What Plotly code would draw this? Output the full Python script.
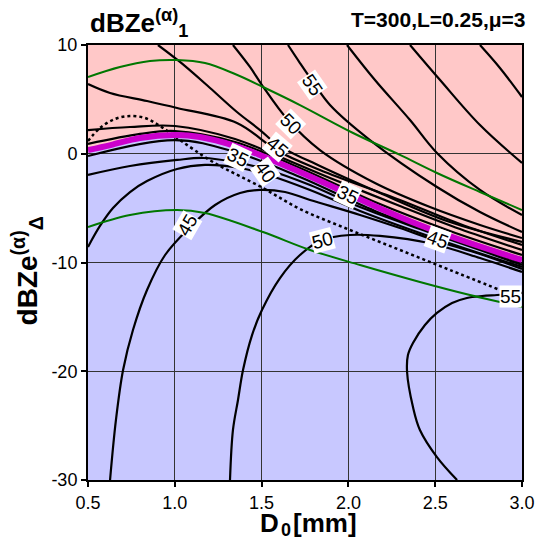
import plotly.graph_objects as go

# ---- boundary (magenta) between the two regions ----
bnd_x = [0.50, 0.63, 0.80, 1.00, 1.145, 1.35, 1.49, 1.72, 1.95, 2.15, 2.41, 2.70, 3.0]
bnd_y = [0.34, 0.80, 1.45, 1.72, 1.54, 0.71, -0.11, -1.68, -3.33, -4.80, -6.55, -8.21, -9.77]

# ---- contour lines, upper (pink) region ----
up70_x = [2.758, 2.873, 3.0]
up70_y = [10, 7.89, 5.22]
up65_x = [2.355, 2.528, 2.758, 3.0]
up65_y = [10, 6.78, 2.64, -0.85]
up60_x = [1.992, 2.153, 2.355, 2.510, 2.758, 3.0]
up60_y = [10, 6.78, 3.10, 0.07, -3.33, -5.63]
up55_x = [1.652, 1.721, 1.796, 1.894, 2.124, 2.510, 2.758, 3.0]
up55_y = [10, 8.34, 6.60, 4.48, 1.26, -3.06, -5.36, -7.20]
up50_x = [1.335, 1.433, 1.502, 1.652, 1.836, 2.153, 2.470, 2.758, 3.0]
up50_y = [10, 7.98, 6.32, 3.10, 0.34, -2.69, -4.90, -6.55, -7.75]
up45_x = [0.903, 1.030, 1.203, 1.358, 1.491, 1.594, 1.836, 2.182, 2.585, 3.0]
up45_y = [10, 8.44, 6.05, 3.84, 2.18, 0.80, -1.13, -3.61, -6.28, -8.11]
up40_x = [0.5, 0.627, 0.840, 1.013, 1.358, 1.594, 1.836, 2.297, 2.643, 3.0]
up40_y = [6.41, 5.59, 4.85, 4.21, 2.83, 0.25, -1.49, -4.25, -6.46, -8.39]
up35_x = [0.5, 0.742, 1.001, 1.347, 1.606, 1.894, 2.297, 2.643, 3.0]
up35_y = [2.18, 2.46, 2.55, 1.36, -0.30, -2.23, -4.80, -6.92, -8.85]
up30_x = [0.5, 0.8, 1.001, 1.347, 1.721, 2.153, 2.585, 3.0]
up30_y = [0.90, 1.82, 2.09, 1.08, -1.31, -4.44, -7.10, -9.31]

# ---- contour lines, lower (blue) region ----
lo30_x = [0.5, 1.001, 1.347, 1.721, 2.153, 2.585, 3.0]
lo30_y = [-0.21, 1.26, 0.16, -2.14, -5.26, -7.75, -10.05]
lo35_x = [0.5, 0.742, 1.013, 1.162, 1.347, 1.537, 1.779, 2.067, 2.412, 2.758, 3.0]
lo35_y = [-1.95, -1.13, -0.57, -0.39, -0.76, -1.49, -2.87, -4.90, -6.92, -8.85, -10.23]
lo40_x = [0.5, 0.569, 0.644, 0.742, 0.840, 1.013, 1.174, 1.376, 1.537, 1.779, 2.067, 2.528, 3.0]
lo40_y = [-8.57, -6.64, -4.99, -3.52, -2.51, -1.40, -1.03, -1.31, -1.95, -3.33, -5.26, -7.93, -10.41]
lo45_x = [0.627, 0.661, 0.702, 0.759, 0.840, 0.944, 1.088, 1.232, 1.376, 1.491, 1.635, 1.779, 2.067, 2.297, 2.528, 2.758, 3.0]
lo45_y = [-30, -24.48, -19.89, -16.21, -12.53, -9.31, -6.74, -4.71, -3.61, -3.33, -3.52, -4.25, -5.63, -6.83, -8.11, -9.22, -10.60]
lo50_x = [1.318, 1.335, 1.364, 1.393, 1.445, 1.502, 1.606, 1.721, 1.848, 2.009, 2.182, 2.487, 2.758, 3.0]
lo50_y = [-30, -25.40, -22.64, -19.89, -16.67, -14.37, -11.43, -9.31, -7.93, -7.47, -7.56, -8.30, -9.59, -10.87]
lo55_x = [2.626, 2.510, 2.412, 2.372, 2.338, 2.343, 2.372, 2.441, 2.510, 2.597, 2.683, 2.770, 2.856, 2.931, 3.0]
lo55_y = [-30, -27.89, -25.40, -23.29, -20.07, -18.51, -17.40, -15.75, -14.64, -13.72, -13.26, -13.08, -12.99, -12.90, -12.80]

# ---- dotted line ----
dot_x = [0.5, 0.569, 0.656, 0.742, 0.828, 0.915, 1.030, 1.220, 1.508, 1.721, 2.009, 2.297, 2.585, 2.873]
dot_y = [1.17, 2.37, 3.20, 3.47, 3.29, 2.55, 1.26, -0.76, -3.15, -5.08, -7.01, -8.85, -10.69, -12.53]

# ---- green lines ----
g1_x = [0.5, 0.684, 0.857, 1.013, 1.174, 1.347, 1.508, 1.721, 2.027, 2.297, 2.510, 2.758, 3.0]
g1_y = [7.06, 7.98, 8.53, 8.62, 8.34, 7.33, 6.14, 4.48, 1.91, -0.11, -1.77, -3.52, -5.17]
g2_x = [0.5, 0.742, 1.013, 1.174, 1.508, 1.779, 2.067, 2.412, 2.700, 3.0]
g2_y = [-6.74, -5.63, -5.17, -5.45, -7.20, -8.85, -10.23, -11.79, -12.99, -14.09]

# ---- contour labels ----
lab_text = ["55", "50", "45", "40", "35", "35", "45", "45", "50", "55"]
lab_x = [1.796, 1.664, 1.594, 1.525, 1.364, 1.992, 2.516, 1.076, 1.848, 2.931]
lab_y = [6.32, 2.74, 0.62, -1.68, -0.39, -3.79, -7.93, -6.55, -8.02, -13.08]
lab_ang = [55, 45, 40, 55, 25, 25, 20, -60, -15, 0]

# ---- axes ----
x_ticks = [0.5, 1.0, 1.5, 2.0, 2.5, 3.0]
x_ticktext = ["0.5", "1.0", "1.5", "2.0", "2.5", "3.0"]
y_ticks = [-30, -20, -10, 0, 10]
y_ticktext = ["-30", "-20", "-10", "0", "10"]

FONT = "Liberation Sans, Arial, sans-serif"

fig = go.Figure()

# lower (blue) region as a shape below the grid
path = "M " + " L ".join(f"{x},{y}" for x, y in zip(bnd_x, bnd_y))
path += f" L {x_ticks[-1]},{y_ticks[0]} L {x_ticks[0]},{y_ticks[0]} Z"
fig.add_shape(type="path", path=path, xref="x", yref="y",
              fillcolor="#C8C8FF", line_width=0, layer="below")

black_lines = [
    (up70_x, up70_y), (up65_x, up65_y), (up60_x, up60_y), (up55_x, up55_y),
    (up50_x, up50_y), (up45_x, up45_y), (up40_x, up40_y), (up35_x, up35_y),
    (up30_x, up30_y),
    (lo30_x, lo30_y), (lo35_x, lo35_y), (lo40_x, lo40_y), (lo45_x, lo45_y),
    (lo50_x, lo50_y), (lo55_x, lo55_y),
]
for lx, ly in black_lines:
    fig.add_trace(go.Scatter(x=lx, y=ly, mode="lines",
                             line=dict(color="black", width=2.2, shape="spline"),
                             hoverinfo="skip", showlegend=False))

fig.add_trace(go.Scatter(x=dot_x, y=dot_y, mode="lines",
                         line=dict(color="black", width=2.5, dash="dot", shape="spline"),
                         showlegend=False))
for gx, gy in [(g1_x, g1_y), (g2_x, g2_y)]:
    fig.add_trace(go.Scatter(x=gx, y=gy, mode="lines",
                             line=dict(color="#007700", width=2, shape="spline"),
                             showlegend=False))
fig.add_trace(go.Scatter(x=bnd_x, y=bnd_y, mode="lines",
                         line=dict(color="#CC00CC", width=6, shape="spline"),
                         showlegend=False))

for t, x, y, a in zip(lab_text, lab_x, lab_y, lab_ang):
    fig.add_annotation(x=x, y=y, xref="x", yref="y", text=t, showarrow=False,
                       textangle=a, bgcolor="white", borderpad=0,
                       font=dict(family=FONT, size=19, color="black"))

# titles
fig.add_annotation(x=0, y=1, xref="paper", yref="paper", xanchor="left", yanchor="bottom",
                   yshift=2, showarrow=False,
                   text="<b>dBZe<sup>(α)</sup><sub>1</sub></b>",
                   font=dict(family=FONT, size=26, color="black"))
fig.add_annotation(x=1, y=1, xref="paper", yref="paper", xanchor="right", yanchor="bottom",
                   xshift=6, yshift=12, showarrow=False,
                   text="<b>T=300,L=0.25,μ=3</b>",
                   font=dict(family=FONT, size=21, color="black"))
# axis title: "D" with subscript "0" and "[mm]" as three text pieces
fig.add_annotation(x=0.5, y=-0.140, xref="paper", yref="paper", xanchor="right", yanchor="bottom",
                   xshift=-25, yshift=2, showarrow=False, text="<b>D</b>", borderpad=0,
                   font=dict(family=FONT, size=26, color="black"))
fig.add_annotation(x=0.5, y=-0.140, xref="paper", yref="paper", xanchor="right", yanchor="bottom",
                   xshift=-13, yshift=0, showarrow=False, text="<b>0</b>", borderpad=0,
                   font=dict(family=FONT, size=18, color="black"))
fig.add_annotation(x=0.5, y=-0.140, xref="paper", yref="paper", xanchor="left", yanchor="bottom",
                   xshift=-13, yshift=2, showarrow=False, text="<b>[mm]</b>", borderpad=0,
                   font=dict(family=FONT, size=26, color="black"))
fig.add_annotation(x=-0.14, y=0.48, xref="paper", yref="paper", xanchor="center", yanchor="middle",
                   showarrow=False, textangle=-90, text="<b>dBZe<sup>(α)</sup><sub>Δ</sub></b>",
                   font=dict(family=FONT, size=28, color="black"))

axis_common = dict(showgrid=True, gridcolor="#333333", gridwidth=1,
                   showline=True, linecolor="black", linewidth=2, mirror=True,
                   ticks="outside", ticklen=5, tickwidth=2, tickcolor="black",
                   zeroline=False, automargin=False,
                   tickfont=dict(family=FONT, size=18, color="black"))

fig.update_layout(
    width=540, height=542,
    margin=dict(l=88, r=18, t=45, b=62, autoexpand=False),
    plot_bgcolor="#FFC8C8", paper_bgcolor="white",
    showlegend=False,
    xaxis=dict(range=[0.5, 3.0], tickvals=x_ticks, ticktext=x_ticktext, **axis_common),
    yaxis=dict(range=[-30, 10], tickvals=y_ticks, ticktext=y_ticktext, **axis_common),
)

fig.write_html("out.html")
